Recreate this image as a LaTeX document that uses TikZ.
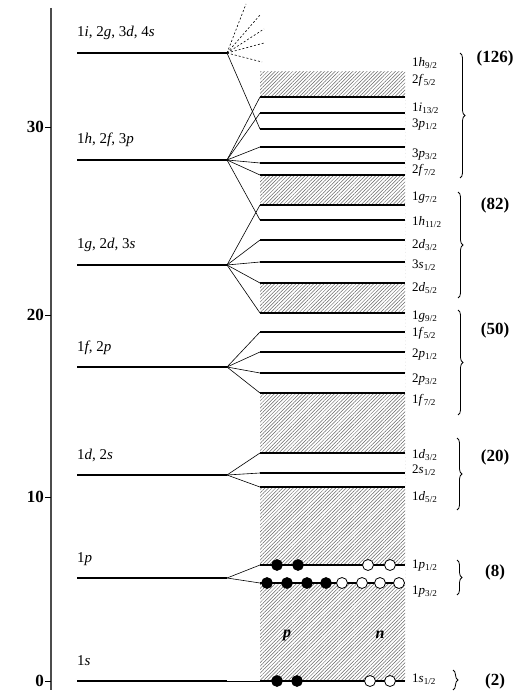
\documentclass[tikz,border=0pt]{standalone}
\usepackage{fontspec}
\setmainfont{Liberation Serif}
\usetikzlibrary{patterns.meta,decorations.pathreplacing}

\newcommand{\orb}[3]{#1\textit{#2}\textsubscript{#3}}

\tikzset{
  level/.style={line width=2.6pt},
  sublevel/.style={line width=2pt},
  fan/.style={line width=0.6pt},
  proton/.style={circle,draw,fill=black,line width=0.6pt,inner sep=0pt,minimum size=11pt},
  neutron/.style={circle,draw,fill=white,line width=0.8pt,inner sep=0pt,minimum size=11pt},
  orblabel/.style={anchor=west,inner sep=0pt,font=\fontsize{13}{15}\selectfont},
  lvllabel/.style={anchor=base west,inner sep=0pt,font=\fontsize{15}{17}\selectfont},
  magic/.style={inner sep=0pt,font=\fontsize{17}{19}\selectfont\bfseries},
  shellbrace/.style={decorate,decoration={brace,amplitude=5pt},line width=0.8pt},
}

\begin{document}
\begin{tikzpicture}[x=1pt,y=-1pt]
  \useasboundingbox (0,0) rectangle (520,700);
  \draw[line width=1.2pt,black!70] (51,8) -- (51,690);
  \foreach \v/\y in {0/681,10/497,20/315,30/127}{
    \draw[line width=0.8pt] (45,\y) -- (51,\y);
    \node[magic,anchor=east] (tick\v) at (44,\y) {\v};
  }
  \fill[pattern={Lines[angle=45,distance=2.5pt,line width=0.5pt]},pattern color=black!60] (260,72) rectangle (405,681);
  \foreach \a/\b in {97/175,205/283,313/393,453/487,565/583}
    \fill[white] (260,\a) rectangle (405,\b);
  \foreach \n/\y/\txt in {1s/681/{1\textit{s}},1p/578/{1\textit{p}},1d/475/{1\textit{d}, 2\textit{s}},
      1f/367/{1\textit{f}, 2\textit{p}},1g/265/{1\textit{g}, 2\textit{d}, 3\textit{s}},
      1h/160/{1\textit{h}, 2\textit{f}, 3\textit{p}},1i/53/{1\textit{i}, 2\textit{g}, 3\textit{d}, 4\textit{s}}}{
    \draw[level] (77,\y) -- (227,\y) coordinate (\n);
    \node[lvllabel] (name\n) at (77,\y-16) {\txt};
  }
  \foreach \y/\from [count=\i] in {97/1h,113/1h,129/1i,147/1h,163/1h,175/1h,205/1g,220/1h,240/1g,262/1g,283/1g,
      313/1g,332/1f,352/1f,373/1f,393/1f,453/1d,473/1d,487/1d,565/1p,583/1p,681/1s}{
    \draw[fan] (\from) -- (260,\y) coordinate (s\i);
    \draw[sublevel] (s\i) -- (405,\y);
  }
  \foreach \x/\y [count=\i] in {246/4,260/15,264/29,264/43,262/62}{
    \coordinate (d\i) at (\x,\y);
    \draw[fan,dash pattern=on 2pt off 2pt] (1i) -- (d\i);
  }
  \foreach \y/\txt [count=\i] in {63/{\orb{1}{h}{9/2}},80/{\orb{2}{f}{5/2}},108/{\orb{1}{i}{13/2}},125/{\orb{3}{p}{1/2}},
      155/{\orb{3}{p}{3/2}},170/{\orb{2}{f}{7/2}},198/{\orb{1}{g}{7/2}},222/{\orb{1}{h}{11/2}},245/{\orb{2}{d}{3/2}},
      265/{\orb{3}{s}{1/2}},288/{\orb{2}{d}{5/2}},317/{\orb{1}{g}{9/2}},333/{\orb{1}{f}{5/2}},355/{\orb{2}{p}{1/2}},
      380/{\orb{2}{p}{3/2}},400/{\orb{1}{f}{7/2}},455/{\orb{1}{d}{3/2}},470/{\orb{2}{s}{1/2}},497/{\orb{1}{d}{5/2}},
      566/{\orb{1}{p}{1/2}},592/{\orb{1}{p}{3/2}},679/{\orb{1}{s}{1/2}}}
    \node[orblabel] (lab\i) at (412,\y) {\txt};
  \foreach \a/\b/\x/\m/\my in {53/178/460/126/58,192/298/458/82/205,310/415/458/50/330,
      438/510/457/20/457,560/595/457/8/572,670/690/453/2/681}{
    \coordinate (bt\m) at (\x,\a);
    \coordinate (bb\m) at (\x,\b);
    \draw[shellbrace] (bt\m) -- (bb\m);
    \node[magic] (shell\m) at (495,\my) {(\m)};
  }
  \foreach \x [count=\i] in {277,298} \node[proton] (pa\i) at (\x,565) {};
  \foreach \x [count=\i] in {368,390} \node[neutron] (na\i) at (\x,565) {};
  \foreach \x [count=\i] in {267,287,307,326} \node[proton] (pb\i) at (\x,583) {};
  \foreach \x [count=\i] in {342,362,380,399} \node[neutron] (nb\i) at (\x,583) {};
  \foreach \x [count=\i] in {277,297} \node[proton] (pc\i) at (\x,681) {};
  \foreach \x [count=\i] in {370,390} \node[neutron] (nc\i) at (\x,681) {};
  \node[magic,font=\fontsize{16}{18}\selectfont\bfseries\itshape] (plab) at (287,635) {p};
  \node[magic,font=\fontsize{16}{18}\selectfont\bfseries\itshape] (nlab) at (380,635) {n};
\end{tikzpicture}
\end{document}
